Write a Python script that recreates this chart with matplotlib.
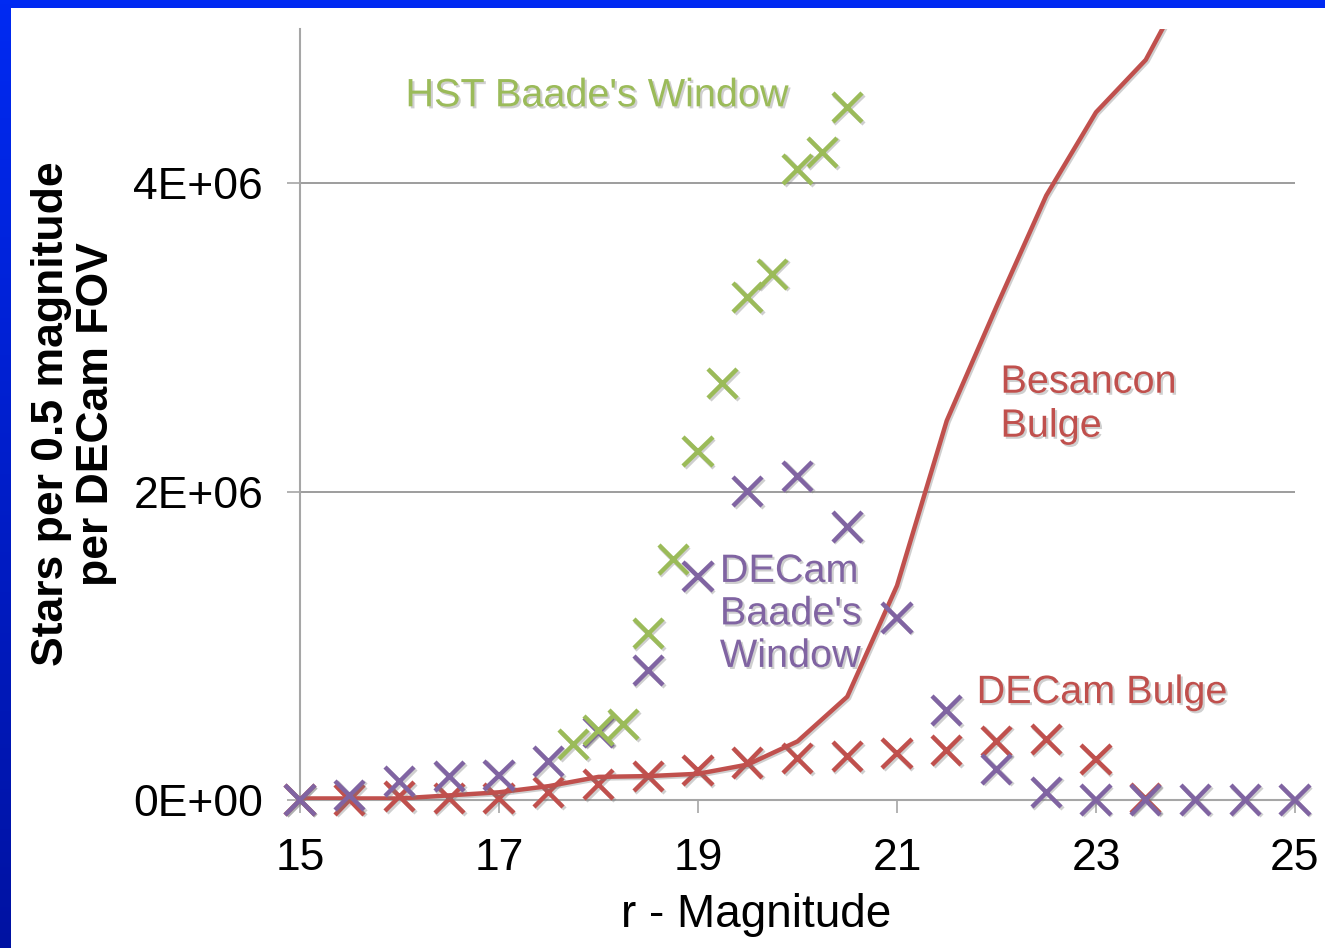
import numpy as np
import matplotlib
matplotlib.use("Agg")
import matplotlib.pyplot as plt
from matplotlib.patches import Rectangle
from matplotlib.colors import LinearSegmentedColormap
import matplotlib.patheffects as pe

plt.rcParams['font.family'] = ['Liberation Sans', 'DejaVu Sans']

# ---------------- data ----------------
# DECam Bulge (red crosses)
bulge_mag = [15, 15.5, 16, 16.5, 17, 17.5, 18, 18.5, 19, 19.5, 20, 20.5, 21, 21.5, 22, 22.5, 23, 23.5]
bulge_cnt = [0.0, 0.0, 0.02e6, 0.01e6, 0.01e6, 0.05e6, 0.10e6, 0.15e6, 0.19e6, 0.24e6, 0.27e6, 0.28e6,
             0.30e6, 0.32e6, 0.38e6, 0.39e6, 0.26e6, 0.01e6]

# DECam Baade's Window (purple crosses)
baade_mag = [15, 15.5, 16, 16.5, 17, 17.5, 18, 18.5, 19, 19.5, 20, 20.5, 21, 21.5, 22, 22.5, 23, 23.5, 24, 24.5, 25]
baade_cnt = [0.0, 0.03e6, 0.12e6, 0.15e6, 0.16e6, 0.25e6, 0.44e6, 0.84e6, 1.45e6, 2.00e6, 2.10e6, 1.77e6,
             1.18e6, 0.58e6, 0.20e6, 0.05e6, 0.0, 0.0, 0.0, 0.0, 0.0]

# HST Baade's Window (green crosses)
hst_mag = [17.75, 18.0, 18.25, 18.5, 18.75, 19.0, 19.25, 19.5, 19.75, 20.0, 20.25, 20.5]
hst_cnt = [0.36e6, 0.45e6, 0.49e6, 1.08e6, 1.56e6, 2.26e6, 2.70e6, 3.26e6, 3.41e6, 4.09e6, 4.20e6, 4.49e6]

# Besancon Bulge model (red line)
bes_mag = [15, 15.5, 16, 16.5, 17, 17.5, 18, 18.5, 19, 19.5, 20, 20.5, 21, 21.5, 22, 22.5, 23, 23.5, 24]
bes_cnt = [0.01e6, 0.01e6, 0.01e6, 0.03e6, 0.05e6, 0.09e6, 0.15e6, 0.155e6, 0.17e6, 0.23e6, 0.38e6, 0.67e6,
           1.39e6, 2.46e6, 3.20e6, 3.92e6, 4.46e6, 4.80e6, 5.40e6]

xticks = [15, 17, 19, 21, 23, 25]
yticks = [0, 2e6, 4e6]
ytick_labels = ['0E+00', '2E+06', '4E+06']

RED = '#C0504D'
GREEN = '#9BBB59'
PURPLE = '#8064A2'
GRID = '#8C8C8C'
AXIS = '#A6A6A6'

W, H = 1325, 948
fig = plt.figure(figsize=(W / 100, H / 100), dpi=100)

# blue slide background with gradient on the left border
bg = fig.add_axes([0, 0, 1, 1], zorder=-10)
cmap = LinearSegmentedColormap.from_list('bl', ['#002AF2', '#0012A2'])
bg.imshow(np.linspace(0, 1, 256).reshape(-1, 1), aspect='auto', cmap=cmap, extent=[0, 1, 0, 1])
bg.set_xlim(0, 1); bg.set_ylim(0, 1)
bg.axis('off')
bg.add_patch(Rectangle((11 / W, 0), 1 - 11 / W, 1 - 8 / H, facecolor='white', edgecolor='none',
                       transform=bg.transAxes))

left, right = 300 / W, 1295 / W
bottom, top = 1 - 800 / H, 1 - 29 / H
ax = fig.add_axes([left, bottom, right - left, top - bottom])
ax.set_facecolor('none')
ax.set_xlim(15, 25)
ax.set_ylim(0, 5e6)

for s in ['top', 'right']:
    ax.spines[s].set_visible(False)
for s in ['left', 'bottom']:
    ax.spines[s].set_color(AXIS)
    ax.spines[s].set_linewidth(1.5)

ax.set_yticks(yticks)
ax.set_yticklabels(ytick_labels)
ax.set_xticks(xticks)
ax.set_xticklabels([str(v) for v in xticks])
ax.tick_params(axis='both', colors=AXIS, labelcolor='black', labelsize=32, length=9.5, width=1.2)
ax.tick_params(axis='y', pad=17)
ax.tick_params(axis='x', pad=18)
ax.yaxis.grid(True, color=GRID, linewidth=1.2)
ax.set_axisbelow(True)

shadow_txt = [pe.withSimplePatchShadow(offset=(1.5, -1.5), shadow_rgbFace='#777777', alpha=0.35)]
shadow_ln = [pe.SimpleLineShadow(offset=(1.2, -1.2), shadow_color='#777777', alpha=0.35), pe.Normal()]

mk = dict(marker='x', linestyle='none', markersize=21, markeredgewidth=3.2, clip_on=False)
ax.plot(bulge_mag, bulge_cnt, color=RED, zorder=3, path_effects=shadow_ln, **mk)
ax.plot(bes_mag, bes_cnt, color=RED, linewidth=3.2, zorder=4, path_effects=shadow_ln)
ax.plot(baade_mag, baade_cnt, color=PURPLE, zorder=5, path_effects=shadow_ln, **mk)
ax.plot(hst_mag, hst_cnt, color=GREEN, zorder=6, path_effects=shadow_ln, **mk)

ax.text(16.06, 4.57e6, "HST Baade's Window", color=GREEN, fontsize=28.5, ha='left', va='center',
        path_effects=shadow_txt)
ax.text(22.04, 2.57e6, "Besancon\nBulge", color=RED, fontsize=28.5, ha='left', va='center',
        linespacing=1.2, path_effects=shadow_txt)
ax.text(19.22, 1.21e6, "DECam\nBaade's\nWindow", color=PURPLE, fontsize=28.5, ha='left', va='center',
        linespacing=1.15, path_effects=shadow_txt)
ax.text(21.80, 0.70e6, "DECam Bulge", color=RED, fontsize=28.5, ha='left', va='center',
        path_effects=shadow_txt)

ax.set_xlabel('r - Magnitude', fontsize=33)
ax.xaxis.set_label_coords((756 - 300) / 995, (800 - 915) / 771)
ax.xaxis.label.set_va('center')
ax.set_ylabel('Stars per 0.5 magnitude\nper DECam FOV', fontsize=32, fontweight='bold',
              linespacing=1.15, multialignment='center')
ax.yaxis.set_label_coords((74 - 300) / 995, (800 - 414) / 771)
ax.yaxis.label.set_va('center')

fig.savefig('out.png', dpi=100)
